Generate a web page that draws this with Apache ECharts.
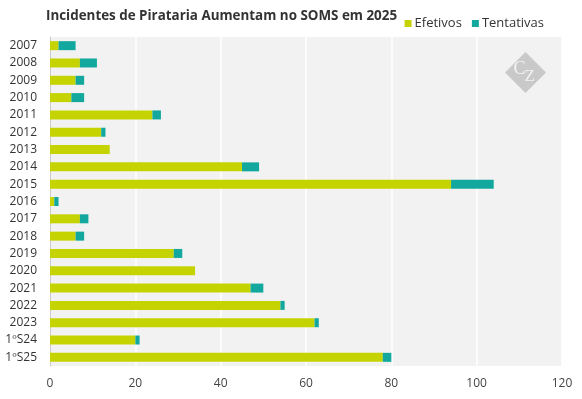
<!DOCTYPE html>
<html>
<head>
<meta charset="utf-8">
<script src="https://cdn.jsdelivr.net/npm/echarts@6/dist/echarts.min.js"></script>
<style>
  html, body { margin: 0; padding: 0; background: #fff; }
  #chart { width: 582px; height: 399px; }
</style>
</head>
<body>
<div id="chart"></div>
<script>
// categorias (anos / semestres)
var categories = ['2007', '2008', '2009', '2010', '2011', '2012', '2013', '2014', '2015', '2016',
    '2017', '2018', '2019', '2020', '2021', '2022', '2023', '1ºS24', '1ºS25'];
// incidentes efetivos
var efetivos = [2, 7, 6, 5, 24, 12, 14, 45, 94, 1, 7, 6, 29, 34, 47, 54, 62, 20, 78];
// tentativas
var tentativas = [4, 4, 2, 3, 2, 1, 0, 4, 10, 1, 2, 2, 2, 0, 3, 1, 1, 1, 2];
var xTicks = [0, 20, 40, 60, 80, 100, 120];

var font = '"Open Sans", "Noto Sans", sans-serif';

var chart = echarts.init(document.getElementById('chart'));

chart.setOption({
    animation: false,
    textStyle: { fontFamily: font },
    title: {
        text: 'Incidentes de Pirataria Aumentam no SOMS em 2025',
        left: 41,
        top: 5,
        textStyle: { fontSize: 13.4, fontWeight: 'bold', color: '#333', fontFamily: font }
    },
    legend: {
        data: ['Efetivos', 'Tentativas'],
        right: 33,
        top: 12,
        icon: 'rect',
        itemWidth: 7,
        itemHeight: 7,
        itemGap: 10,
        textStyle: { fontSize: 13, color: '#333', padding: [0, 0, 0, -2] }
    },
    grid: { left: 50, right: 20, top: 37, bottom: 33 },
    xAxis: {
        type: 'value',
        min: 0,
        max: 120,
        interval: 20,
        axisLine: { show: false },
        axisTick: { show: false },
        axisLabel: { color: '#444', fontSize: 12, margin: 12,
            formatter: function (v) { return xTicks.indexOf(v) >= 0 ? String(v) : ''; } },
        splitLine: { lineStyle: { color: '#fff', width: 1.5 } }
    },
    yAxis: {
        type: 'category',
        data: categories,
        inverse: true,
        axisLine: { lineStyle: { color: '#ccc' } },
        axisTick: { length: 4, lineStyle: { color: '#ccc' } },
        axisLabel: { color: '#333', fontSize: 12, margin: 13 }
    },
    graphic: [
        {
            type: 'rect',
            left: 50, top: 37,
            shape: { width: 512, height: 329 },
            style: { fill: '#f2f2f2' },
            z: -10,
            silent: true
        },
        {
            type: 'group',
            left: 505, top: 52,
            z: 1,
            children: [
                {
                    type: 'rect',
                    x: 20, y: 0,
                    rotation: -Math.PI / 4,
                    shape: { width: 29, height: 29 },
                    style: { fill: '#c9c9c9' }
                },
                {
                    type: 'text',
                    x: 8, y: 8,
                    style: { text: 'C', fill: '#f2f2f2', font: '18px "Liberation Serif", serif' }
                },
                {
                    type: 'text',
                    x: 19, y: 16,
                    style: { text: 'Z', fill: '#f2f2f2', font: '17px "Liberation Serif", serif' }
                }
            ]
        }
    ],
    series: [
        {
            name: 'Efetivos',
            type: 'bar',
            stack: 'total',
            data: efetivos,
            barWidth: 9,
            itemStyle: { color: '#c5d300' }
        },
        {
            name: 'Tentativas',
            type: 'bar',
            stack: 'total',
            data: tentativas,
            barWidth: 9,
            itemStyle: { color: '#13a89e' }
        }
    ]
});
</script>
</body>
</html>
